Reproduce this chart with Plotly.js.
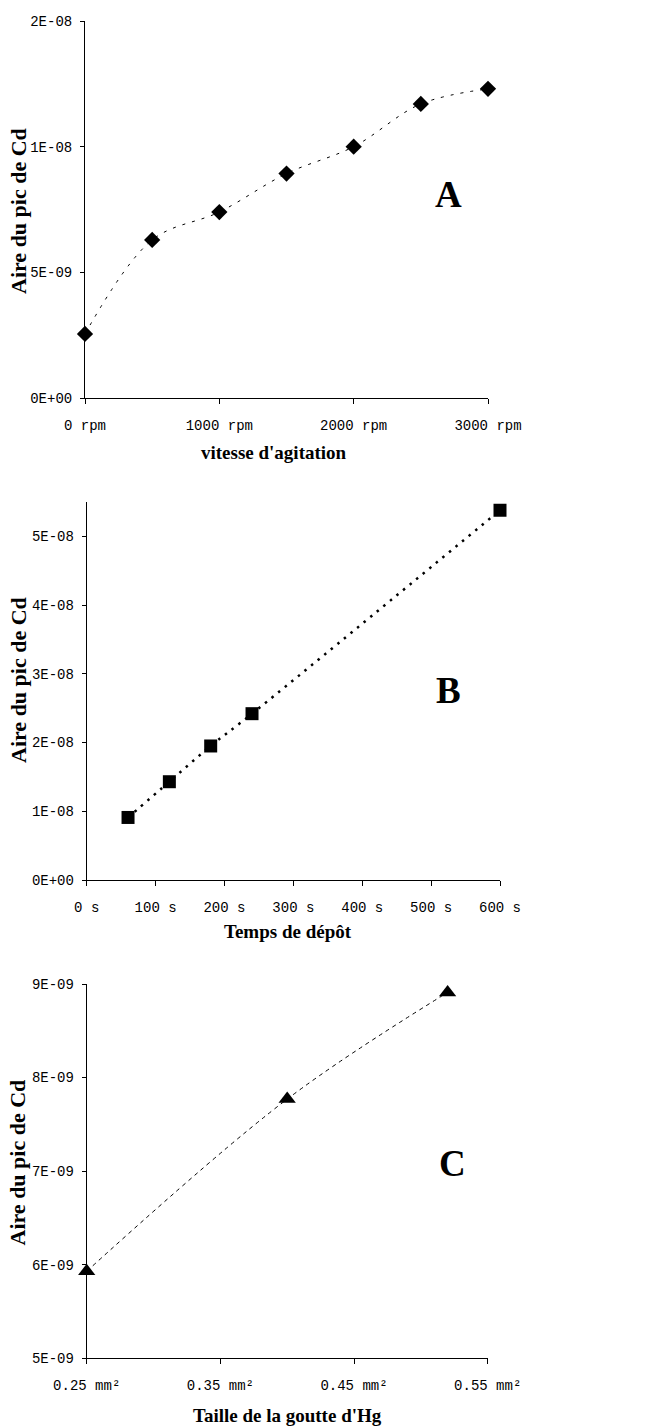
<!DOCTYPE html>
<html><head><meta charset="utf-8">
<script src="https://cdn.plot.ly/plotly-3.0.1.min.js"></script>
<style>html,body{margin:0;padding:0;background:#fff}</style>
</head><body><div id="chart" style="width:654px;height:1426px"></div>
<script>
// Chart A : vitesse d'agitation
const speedRpm = [0, 500, 1000, 1500, 2000, 2500, 3000];
const areaA = [2.55e-9, 6.29e-9, 7.4e-9, 8.93e-9, 1.0e-8, 1.17e-8, 1.23e-8];
const tickValsXA = [0, 1000, 2000, 3000];
const tickTextXA = ["0 rpm", "1000 rpm", "2000 rpm", "3000 rpm"];
const tickValsYA = [0, 5e-9, 1e-8, 1.5e-8];
const tickTextYA = ["0E+00", "5E-09", "1E-08", "2E-08"];

// Chart B : temps de dépôt
const depositTimeS = [60, 120, 180, 240, 600];
const areaB = [0.91e-8, 1.43e-8, 1.95e-8, 2.42e-8, 5.38e-8];
const tickValsXB = [0, 100, 200, 300, 400, 500, 600];
const tickTextXB = ["0 s", "100 s", "200 s", "300 s", "400 s", "500 s", "600 s"];
const tickValsYB = [0, 1e-8, 2e-8, 3e-8, 4e-8, 5e-8];
const tickTextYB = ["0E+00", "1E-08", "2E-08", "3E-08", "4E-08", "5E-08"];

// Chart C : taille de la goutte
const dropSizeMm2 = [0.25, 0.40, 0.52];
const areaC = [5.93e-9, 7.77e-9, 8.91e-9];
const tickValsXC = [0.25, 0.35, 0.45, 0.55];
const tickTextXC = ["0.25 mm²", "0.35 mm²", "0.45 mm²", "0.55 mm²"];
const tickValsYC = [5e-9, 6e-9, 7e-9, 8e-9, 9e-9];
const tickTextYC = ["5E-09", "6E-09", "7E-09", "8E-09", "9E-09"];

const yTitle = "Aire du pic de Cd";
const xTitles = ["vitesse d'agitation", "Temps de dépôt", "Taille de la goutte d'Hg"];
const panelLabels = ["A", "B", "C"];

const W = 654, H = 1426;
const px = v => v / W;
const py = v => 1 - v / H;

const tickFont = {family: "Liberation Mono, Courier New, monospace", size: 14, color: "#000"};
const serifBold = {family: "Liberation Serif, Times New Roman, serif", color: "#000", weight: "bold"};

function xax(domain, range, tv, tt) {
  return {domain: domain, range: range, tickmode: "array", tickvals: tv, ticktext: tt,
    showline: true, linecolor: "#000", linewidth: 1, ticks: "outside", ticklen: 5, tickcolor: "#000",
    showgrid: false, zeroline: false, tickfont: tickFont, ticklabelstandoff: 9, fixedrange: true};
}
function yax(domain, range, tv, tt) {
  return {domain: domain, range: range, tickmode: "array", tickvals: tv, ticktext: tt,
    showline: true, linecolor: "#000", linewidth: 1, ticks: "outside", ticklen: 4, tickcolor: "#000",
    showgrid: false, zeroline: false, tickfont: tickFont, ticklabelstandoff: 5, fixedrange: true};
}

const traces = [
  {x: speedRpm, y: areaA, xaxis: "x", yaxis: "y", mode: "lines+markers", cliponaxis: false,
   line: {color: "#000", width: 1, dash: "3px,7px", shape: "spline"},
   marker: {symbol: "diamond", size: 12.5, color: "#000"}},
  {x: depositTimeS, y: areaB, xaxis: "x2", yaxis: "y2", mode: "lines+markers", cliponaxis: false,
   line: {color: "#000", width: 2.5, dash: "2.5px,6px", shape: "spline"},
   marker: {symbol: "square", size: 13, color: "#000"}},
  {x: dropSizeMm2, y: areaC, xaxis: "x3", yaxis: "y3", mode: "lines+markers", cliponaxis: false,
   line: {color: "#000", width: 1, dash: "4px,4px", shape: "spline"},
   marker: {symbol: "triangle-up", size: 15, color: "#000"}}
];

const annotations = [
  {text: "<b>" + panelLabels[0] + "</b>", x: px(448), y: py(194)},
  {text: "<b>" + panelLabels[1] + "</b>", x: px(448), y: py(690)},
  {text: "<b>" + panelLabels[2] + "</b>", x: px(452), y: py(1163)}
].map(a => Object.assign(a, {xref: "paper", yref: "paper", showarrow: false,
  font: Object.assign({size: 37}, serifBold), xanchor: "center", yanchor: "middle"}));

[[274, 452], [287.5, 931.7], [287.5, 1415]].forEach((p, i) => {
  annotations.push({text: "<b>" + xTitles[i] + "</b>", x: px(p[0]), y: py(p[1]), xref: "paper", yref: "paper",
    showarrow: false, xanchor: "center", yanchor: "middle", font: Object.assign({size: 19}, serifBold)});
});
[[18, 211], [18, 680], [17, 1162.5]].forEach((p, i) => {
  annotations.push({text: "<b>" + yTitle + "</b>", x: px(p[0]), y: py(p[1]), xref: "paper", yref: "paper",
    showarrow: false, xanchor: "center", yanchor: "middle", textangle: -90, font: Object.assign({size: 22}, serifBold)});
});

const layout = {
  width: W, height: H, margin: {l: 0, r: 0, t: 0, b: 0},
  paper_bgcolor: "#fff", plot_bgcolor: "#fff", showlegend: false,
  xaxis: Object.assign(xax([px(85), px(488)], [0, 3000], tickValsXA, tickTextXA), {anchor: "y"}),
  yaxis: Object.assign(yax([py(398), py(21)], [0, 1.5e-8], tickValsYA, tickTextYA), {anchor: "x"}),
  xaxis2: Object.assign(xax([px(86.7), px(500)], [0, 600], tickValsXB, tickTextXB), {anchor: "y2"}),
  yaxis2: Object.assign(yax([py(880), py(502)], [0, 5.5e-8], tickValsYB, tickTextYB), {anchor: "x2"}),
  xaxis3: Object.assign(xax([px(86.7), px(487.7)], [0.25, 0.55], tickValsXC, tickTextXC), {anchor: "y3"}),
  yaxis3: Object.assign(yax([py(1358.3), py(984)], [5e-9, 9e-9], tickValsYC, tickTextYC), {anchor: "x3"}),
  annotations: annotations
};

Plotly.newPlot("chart", traces, layout, {staticPlot: true, displayModeBar: false});
</script></body></html>
